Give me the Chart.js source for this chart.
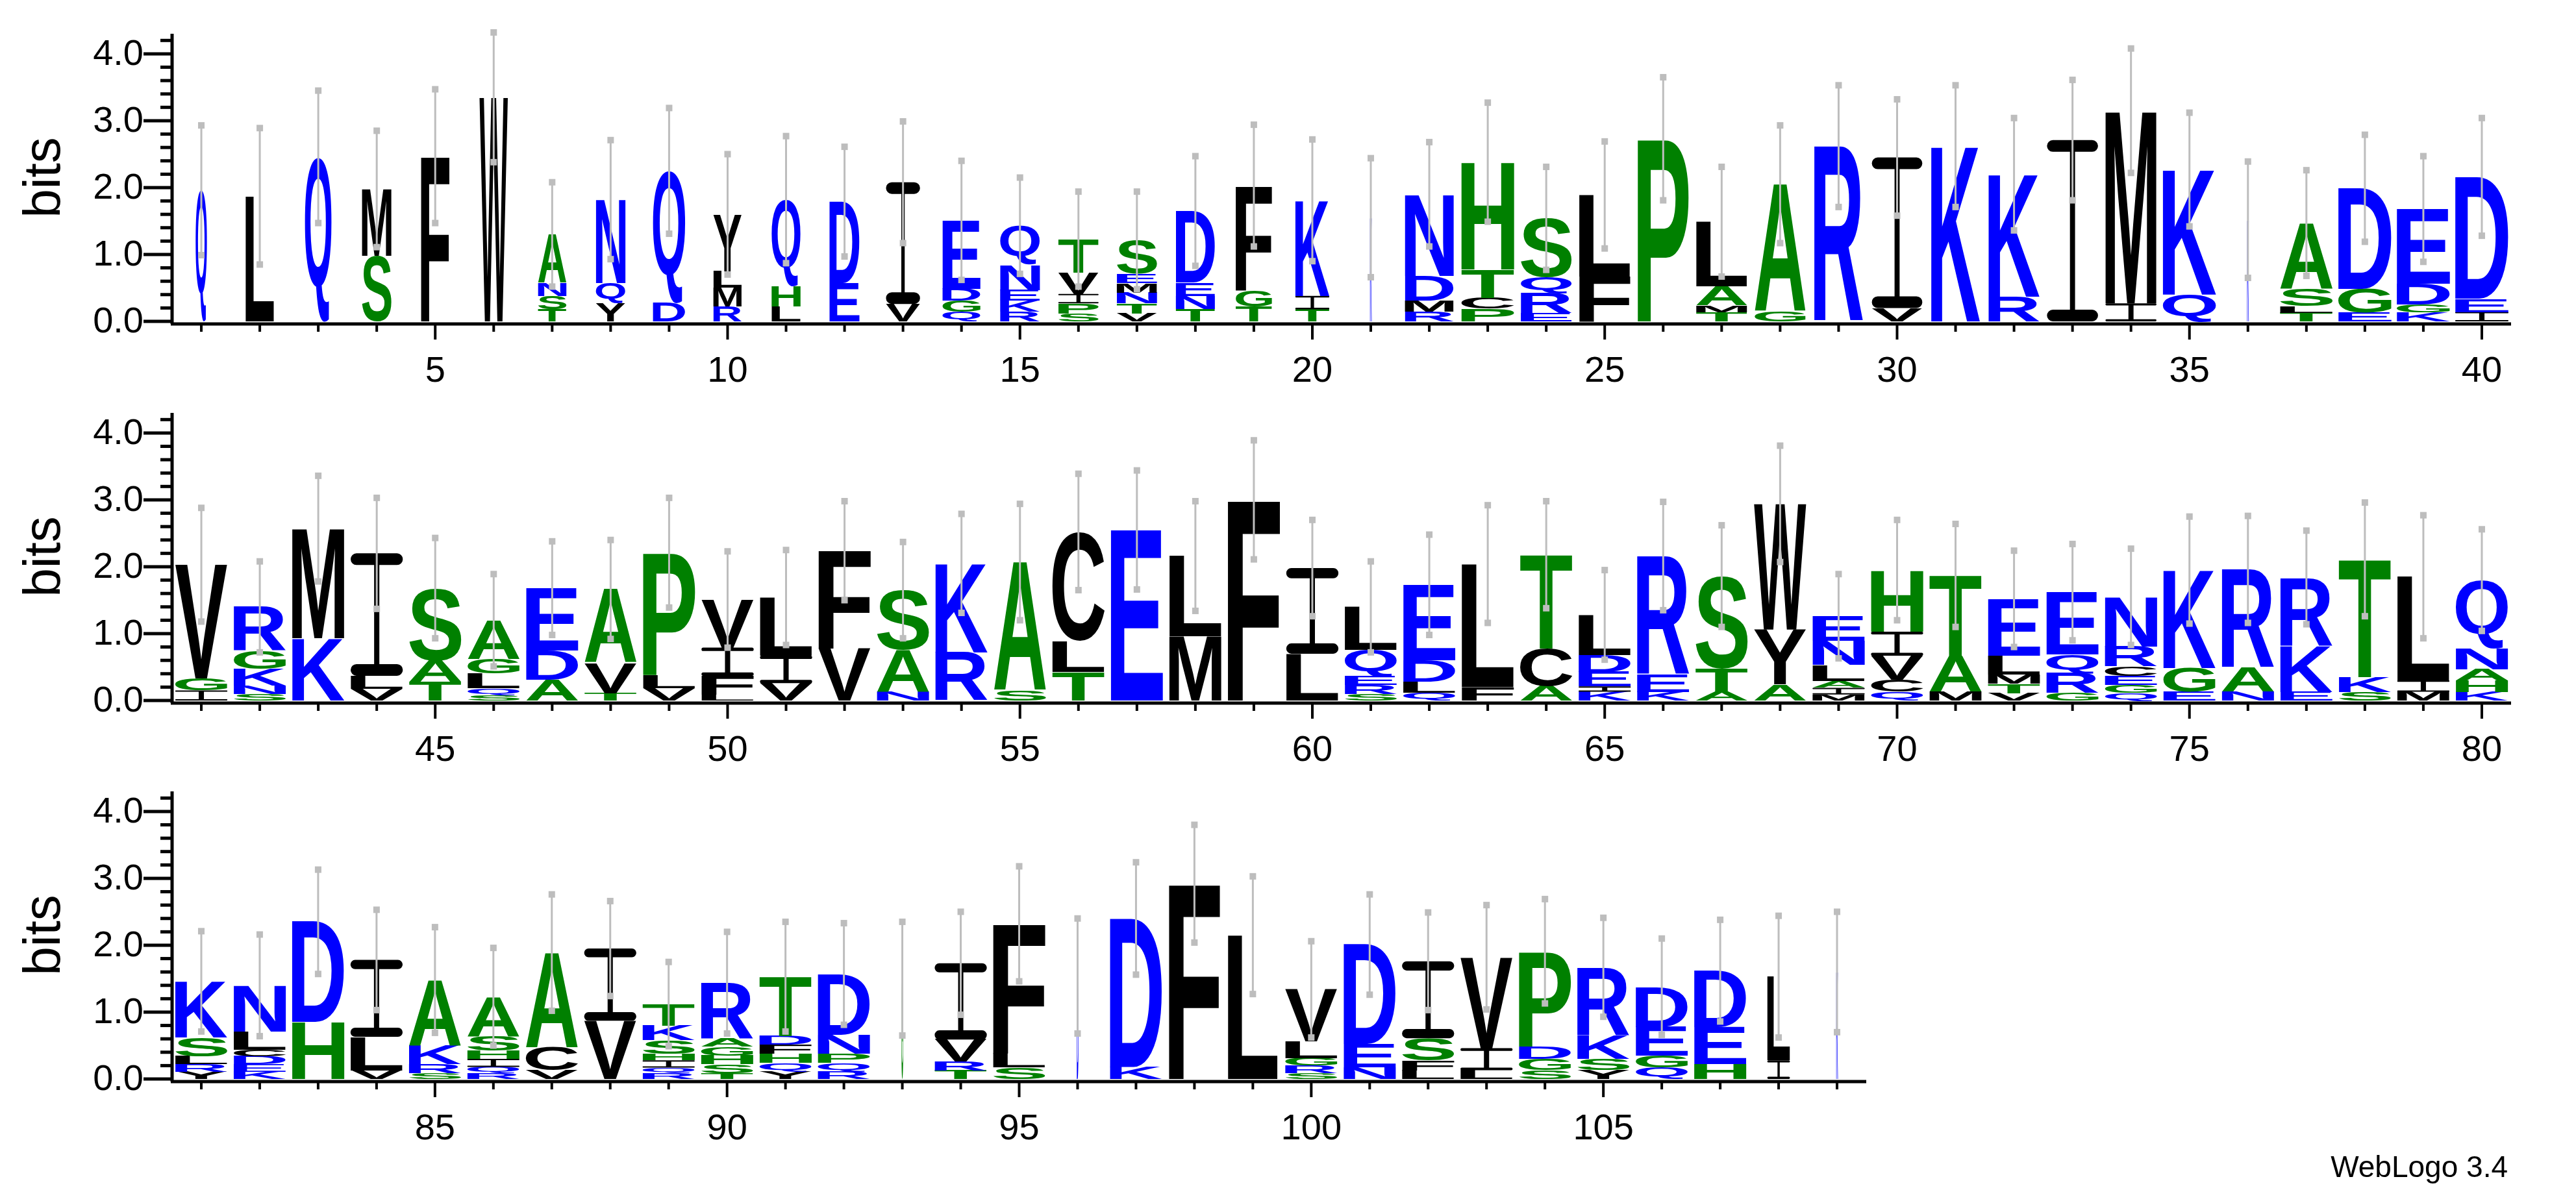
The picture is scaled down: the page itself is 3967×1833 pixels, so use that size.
<!DOCTYPE html>
<html>
<head>
<meta charset="utf-8">
<script src="https://cdn.jsdelivr.net/npm/chart.js@4.4.1/dist/chart.umd.min.js"></script>
<style>
  body { margin: 0; background: #fff; width: 3967px; height: 1833px; position: relative; overflow: hidden; }
  canvas { position: absolute; left: 0; }
  #credit { position: absolute; right: 105px; top: 1770px; font: 46px "Liberation Sans", Arial, sans-serif; color: #000; }
</style>
</head>
<body>
<canvas id="row1" width="3967" height="573"></canvas>
<canvas id="row2" width="3967" height="573"></canvas>
<canvas id="row3" width="3967" height="573"></canvas>
<div id="credit">WebLogo 3.4</div>
<script>
// tick labels
var yTickLabels = ['0.0', '1.0', '2.0', '3.0', '4.0'];

// row 1: positions 1-40, letters listed bottom to top
var row1Pos = [];
for (var p = 1; p <= 40; p++) row1Pos.push(p);
var row1Letters = ['Q','L','Q','SM','F','W','TSNA','YQN','DQ','RMLY','LHQ','ED','VI','QGDE','RKENQ','SPIVT','VTNMES','TNED','TGF','TIK',
  'K','RMDN','PCTH','ERQS','FL','P','TMAL','GA','R','VI','K','RK','I','IM','QK','K','TLSA','EGD','KGDE','IED'];
var row1Bits = [[1.96],[1.87],[2.46],[0.98,1.0],[2.47],[3.35],[0.18,0.2,0.2,0.72],[0.27,0.3,1.25],[0.28,1.97],[0.22,0.28,0.25,0.85],
  [0.22,0.3,1.3],[0.57,1.22],[0.26,1.82],[0.14,0.17,0.18,1.02],[0.15,0.16,0.16,0.38,0.58],[0.12,0.15,0.14,0.32,0.5],[0.12,0.15,0.16,0.14,0.14,0.5],[0.18,0.2,0.2,1.07],[0.22,0.24,1.57],[0.18,0.2,1.43],
  [1.55],[0.15,0.16,0.37,1.22],[0.19,0.16,0.43,1.6],[0.12,0.3,0.24,0.88],[0.67,1.22],[2.73],[0.14,0.1,0.28,0.97],[0.15,1.9],[2.62],[0.2,2.25],
  [2.62],[0.37,1.83],[2.71],[0.27,2.88],[0.4,1.87],[1.52],[0.13,0.1,0.26,0.98],[0.13,0.36,1.5],[0.13,0.12,0.31,1.12],[0.14,0.2,1.82]];
var row1ErrTop = [2.93,2.89,3.45,2.85,3.47,4.32,2.08,2.71,3.19,2.5,2.77,2.61,2.99,2.4,2.15,1.94,1.94,2.47,2.94,2.72,
  2.44,2.68,3.27,2.31,2.69,3.65,2.31,2.93,3.53,3.32,3.53,3.04,3.61,4.08,3.12,2.39,2.26,2.79,2.47,3.04];
var row1Occupancy = [0.2,0.5,0.47,0.52,0.5,0.5,0.5,0.52,0.57,0.5,0.51,0.53,0.6,0.67,0.7,0.71,0.71,0.69,0.64,0.6,
  0.03,0.86,0.93,0.9,0.9,0.9,0.9,0.9,0.86,0.89,0.86,0.9,0.9,0.9,0.94,0.03,0.93,0.94,0.94,0.94];

// row 2: positions 41-80
var row2Pos = [];
for (var p = 41; p <= 80; p++) row2Pos.push(p);
var row2Letters = ['IGV','SNKGR','KM','VLI','TAS','SQLGA','ADE','TVA','VLP','LFIV','VIL','VF','NAS','RK','SA','TLC','E','ML','F',
  'LI','SREQL','QLDE','FL','ACT','KIEDL','KER','ATS','AYW','MIALNE','QCVIH','MAT','VTMLE','GRQE','QGECRN','EGK','NAR','EKR','SKT','MIL','KHANQ'];
var row2Bits = [[0.15,0.18,1.7],[0.1,0.12,0.25,0.27,0.66],[0.93,1.64],[0.17,0.2,1.83],[0.28,0.32,1.08],[0.08,0.1,0.22,0.22,0.58],[0.31,0.44,0.93],[0.11,0.45,1.1],[0.18,0.2,1.83],[0.09,0.28,0.42,0.72],
  [0.26,0.41,0.87],[0.78,1.46],[0.13,0.62,0.9],[0.72,1.33],[0.15,1.92],[0.43,0.46,1.63],[2.55],[0.96,1.2],[3.0],
  [0.7,1.28],[0.1,0.13,0.13,0.4,0.64],[0.12,0.16,0.32,1.13],[0.2,1.84],[0.22,0.56,1.4],[0.13,0.08,0.22,0.25,0.6],[0.13,0.26,1.77],[0.13,0.35,1.38],[0.24,0.82,1.88],[0.09,0.1,0.1,0.24,0.36,0.37],[0.13,0.18,0.36,0.36,0.92],
  [0.13,0.54,1.2],[0.11,0.14,0.14,0.28,0.85],[0.11,0.3,0.28,0.93],[0.11,0.12,0.14,0.14,0.3,0.74],[0.13,0.36,1.46],[0.13,0.36,1.47],[0.13,0.69,1.02],[0.13,0.22,1.76],[0.13,0.17,1.55],[0.13,0.17,0.17,0.31,1.02]];
var row2ErrTop = [2.88,2.08,3.36,3.03,2.43,1.89,2.38,2.4,3.03,2.23,2.25,2.98,2.37,2.79,2.94,3.39,3.44,2.98,3.89,
  2.7,2.08,2.48,2.92,2.98,1.95,2.97,2.62,3.81,1.89,2.7,2.64,2.24,2.34,2.27,2.75,2.76,2.54,2.96,2.77,2.56];
var row2Occupancy = row2Pos.map(function () { return 0.92; });

// row 3: positions 81-109
var row3Pos = [];
for (var p = 81; p <= 109; p++) row3Pos.push(p);
var row3Letters = ['YRLSK','KEDCLN','HD','VLI','SRKA','RQIHSA','VCA','VI','RQIHSKT','TSHGAR','YQHFDT','RQPND','G','TRVI','SLF',
  'D','KD','F','L','SRGLV','NED','LFSI','LIV','SGDP','YSKR','QGED','HED','IL','K'];
var row3Bits = [[0.11,0.11,0.12,0.28,0.84],[0.11,0.11,0.12,0.1,0.27,0.69],[0.85,1.5],[0.13,0.5,1.15],[0.09,0.13,0.28,0.98],[0.09,0.09,0.12,0.12,0.22,0.59],[0.13,0.34,1.42],[0.87,1.08],
  [0.09,0.08,0.11,0.1,0.2,0.22,0.32],[0.09,0.13,0.13,0.13,0.12,0.84],[0.11,0.13,0.14,0.13,0.13,0.89],[0.11,0.13,0.14,0.28,0.91],[1.5],[0.13,0.13,0.33,1.14],[0.17,0.21,1.94],
  [1.54],[0.18,2.22],[2.92],[2.15],[0.09,0.11,0.11,0.25,0.78],[0.17,0.35,1.49],[0.13,0.15,0.33,1.15],[0.13,0.33,1.36],[0.13,0.17,0.19,1.42],[0.13,0.17,0.35,1.02],[0.17,0.18,0.43,0.6],[0.22,0.56,0.84],[0.28,1.25],[1.6]];
var row3ErrTop = [2.21,2.16,3.13,2.53,2.27,1.96,2.76,2.66,1.75,2.2,2.35,2.33,2.35,2.5,3.18,2.4,3.24,3.8,3.03,2.06,2.76,2.49,2.6,2.69,2.41,2.1,2.38,2.44,2.5];
var row3Occupancy = [0.92,0.92,0.92,0.92,0.92,0.92,0.92,0.92,0.92,0.92,0.92,0.92,0.03,0.92,0.92,0.03,0.92,0.9,0.88,0.92,0.92,0.92,0.92,0.92,0.92,0.92,0.92,0.4,0.03];

var BLUE = 'QNDEKR', GREEN = 'STGAHP';
function letterColor(ch) {
  if (BLUE.indexOf(ch) >= 0) return '#0000ff';
  if (GREEN.indexOf(ch) >= 0) return '#008000';
  return '#000000';
}

// stretch one glyph into a box
function drawGlyph(ctx, ch, x, top, w, h) {
  if (w <= 0 || h <= 0) return;
  ctx.save();
  ctx.fillStyle = letterColor(ch);
  if (ch === 'I') {
    // serif I like the logo font: cap, thin stem, foot
    var s = Math.max(2, Math.min(18, h * 0.12));
    var stem = Math.max(2, w * 0.1);
    var r = Math.min(s / 2, w / 4);
    ctx.beginPath();
    ctx.roundRect(x, top, w, s, r);
    ctx.roundRect(x, top + h - s, w, s, r);
    ctx.rect(x + w / 2 - stem / 2, top + s / 2, stem, h - s);
    ctx.fill();
    ctx.restore();
    return;
  }
  ctx.font = 'bold 200px "Liberation Sans", Arial, sans-serif';
  ctx.textBaseline = 'alphabetic';
  var m = ctx.measureText(ch);
  var gl = m.actualBoundingBoxLeft, gr = m.actualBoundingBoxRight;
  var ga = m.actualBoundingBoxAscent, gd = m.actualBoundingBoxDescent;
  ctx.translate(x, top);
  ctx.scale(w / (gl + gr), h / (ga + gd));
  ctx.fillText(ch, gl, ga);
  ctx.restore();
}

var logoPlugin = {
  id: 'logo',
  afterDatasetsDraw: function (chart) {
    var row = chart.options.plugins.logo;
    var ctx = chart.ctx;
    chart.data.datasets.forEach(function (ds, k) {
      chart.getDatasetMeta(k).data.forEach(function (bar, i) {
        var ch = row.letters[i][k];
        if (!ch) return;
        var top = Math.min(bar.y, bar.base), bottom = Math.max(bar.y, bar.base);
        var w = bar.width * row.occupancy[i];
        drawGlyph(ctx, ch, bar.x - w / 2, top, w, bottom - top);
      });
    });
    // error bars
    var xs = chart.scales.x, ys = chart.scales.y;
    ctx.save();
    ctx.strokeStyle = '#bdbdbd';
    ctx.fillStyle = '#bdbdbd';
    ctx.lineWidth = 3;
    row.bits.forEach(function (b, i) {
      var total = b.reduce(function (a, c) { return a + c; }, 0);
      var hi = row.errTop[i], lo = 2 * total - hi;
      var x = xs.getPixelForValue(i);
      var y1 = ys.getPixelForValue(hi), y0 = ys.getPixelForValue(lo);
      ctx.beginPath();
      ctx.moveTo(x, y0);
      ctx.lineTo(x, y1);
      ctx.stroke();
      ctx.fillRect(x - 5, y1 - 5, 10, 10);
      ctx.fillRect(x - 5, y0 - 5, 10, 10);
    });
    ctx.restore();
  },
  afterDraw: function (chart) {
    var row = chart.options.plugins.logo;
    var ctx = chart.ctx, area = chart.chartArea;
    var xs = chart.scales.x, ys = chart.scales.y;
    var y0 = ys.getPixelForValue(0);
    ctx.save();
    ctx.strokeStyle = '#000';
    ctx.fillStyle = '#000';
    ctx.lineWidth = 5;
    ctx.beginPath();
    ctx.moveTo(area.left, y0 + 4);
    ctx.lineTo(area.left, area.top);
    ctx.moveTo(area.left - 2, y0 + 4);
    ctx.lineTo(area.right, y0 + 4);
    ctx.stroke();
    // y ticks
    for (var t = 0; t <= 21; t++) {
      var v = t * 0.2, y = ys.getPixelForValue(v);
      var major = t % 5 === 0;
      ctx.beginPath();
      ctx.moveTo(area.left - (major ? 44 : 18), y);
      ctx.lineTo(area.left, y);
      ctx.stroke();
      if (major) {
        ctx.font = '56px "Liberation Sans", Arial, sans-serif';
        ctx.textAlign = 'right';
        ctx.textBaseline = 'middle';
        ctx.fillText(yTickLabels[t / 5], area.left - 44, y + 2);
      }
    }
    // x ticks
    ctx.lineWidth = 4;
    row.positions.forEach(function (p, i) {
      var x = xs.getPixelForValue(i);
      var major = p % 5 === 0;
      ctx.beginPath();
      ctx.moveTo(x, y0 + 6);
      ctx.lineTo(x, y0 + (major ? 28 : 16));
      ctx.stroke();
      if (major) {
        ctx.font = '56px "Liberation Sans", Arial, sans-serif';
        ctx.textAlign = 'center';
        ctx.textBaseline = 'top';
        ctx.fillText(String(p), x, y0 + 50);
      }
    });
    // axis title
    ctx.save();
    ctx.translate(70, ys.getPixelForValue(2.15));
    ctx.rotate(-Math.PI / 2);
    ctx.font = '80px "Liberation Sans", Arial, sans-serif';
    ctx.textAlign = 'center';
    ctx.textBaseline = 'middle';
    ctx.fillText('bits', 0, 0);
    ctx.restore();
    ctx.restore();
  }
};

function makeRow(id, top, rightPad, positions, letters, bits, errTop, occupancy) {
  var canvas = document.getElementById(id);
  canvas.style.top = top + 'px';
  var levels = 0;
  letters.forEach(function (s) { levels = Math.max(levels, s.length); });
  var datasets = [];
  for (var k = 0; k < levels; k++) {
    datasets.push({
      data: bits.map(function (b) {
        if (k >= b.length) return null;
        var base = 0;
        for (var j = 0; j < k; j++) base += b[j];
        return [base, base + b[k]];
      }),
      backgroundColor: 'rgba(0,0,0,0)',
      borderWidth: 0,
      barPercentage: 0.97,
      categoryPercentage: 1.0
    });
  }
  return new Chart(canvas.getContext('2d'), {
    type: 'bar',
    data: { labels: positions.map(String), datasets: datasets },
    options: {
      responsive: false,
      animation: false,
      devicePixelRatio: 1,
      layout: { padding: { top: 20, right: rightPad, left: 0, bottom: 0 } },
      scales: {
        x: {
          stacked: true,
          offset: true,
          grid: { display: false },
          border: { display: false },
          ticks: { display: false },
          afterFit: function (s) { s.height = 110; }
        },
        y: {
          min: 0,
          max: 4.3,
          grid: { display: false },
          border: { display: false },
          ticks: { display: false },
          afterFit: function (s) { s.width = 265; }
        }
      },
      plugins: {
        legend: { display: false },
        tooltip: { enabled: false },
        logo: { positions: positions, letters: letters, bits: bits, errTop: errTop, occupancy: occupancy }
      }
    },
    plugins: [logoPlugin]
  });
}

makeRow('row1', 32, 100, row1Pos, row1Letters, row1Bits, row1ErrTop, row1Occupancy);
makeRow('row2', 616, 100, row2Pos, row2Letters, row2Bits, row2ErrTop, row2Occupancy);
makeRow('row3', 1199, 1093, row3Pos, row3Letters, row3Bits, row3ErrTop, row3Occupancy);
</script>
</body>
</html>
